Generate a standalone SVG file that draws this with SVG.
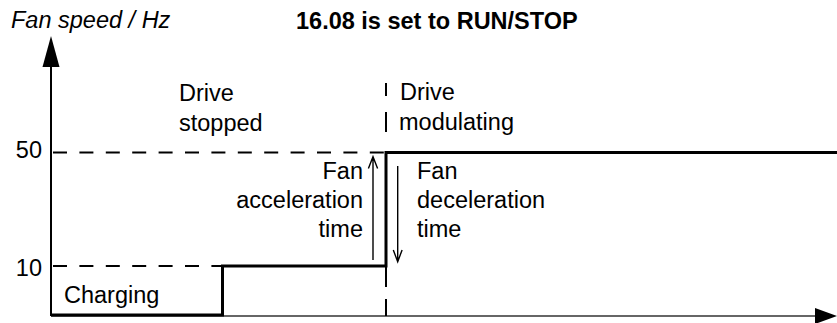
<svg xmlns="http://www.w3.org/2000/svg" width="837" height="323" viewBox="0 0 837 323">
  <style>
    text { font-family: "Liberation Sans", Arial, Helvetica, sans-serif; font-size: 23.5px; fill: #000; }
    .it { font-style: italic; }
    .b { font-weight: bold; }
    .end { text-anchor: end; }
    .axis { stroke: #000; stroke-width: 2; fill: none; }
    .trace { stroke: #000; stroke-width: 3; fill: none; stroke-linejoin: miter; }
    .dash { stroke: #000; stroke-width: 2; fill: none; stroke-dasharray: 14 12.4; }
    .seg { stroke: #000; stroke-width: 2; fill: none; }
    .thin { stroke: #000; stroke-width: 1.4; fill: none; }
  </style>
  <rect width="837" height="323" fill="#fff"/>

  <g id="axes">
    <line x1="51" y1="316" x2="51" y2="64" class="axis"/>
    <polygon points="51,36 42.5,67 59.5,67" fill="#000"/>
    <line x1="51" y1="316" x2="818" y2="316" stroke="#333" stroke-width="1.5"/>
    <polygon points="837,316 815,308 815,324" fill="#000"/>
  </g>

  <g id="connectors">
    <line x1="53" y1="152.5" x2="386" y2="152.5" class="dash"/>
    <line x1="53" y1="266" x2="222" y2="266" class="dash"/>
    <path d="M386,83 V96 M386,112 V132 M386,266 V287 M386,299 V316" class="seg"/>
    <path d="M51,315 H222.5 V266 H386 V152.5 H837" class="trace"/>
    <path d="M373,260 V157 M368.4,168.4 L373,156.7 L377.6,168.4" class="thin"/>
    <path d="M397.7,166 V261 M393.3,250 L397.7,261.7 L402.1,250" class="thin"/>
  </g>

  <g id="labels">
    <text x="11" y="28" class="it">Fan speed / Hz</text>
    <text x="296" y="29" class="b">16.08 is set to RUN/STOP</text>
    <g id="drive-stopped">
      <text x="179" y="101">Drive</text>
      <text x="179" y="131">stopped</text>
    </g>
    <g id="drive-modulating">
      <text x="400" y="100">Drive</text>
      <text x="399" y="130">modulating</text>
    </g>
    <text x="42" y="158" class="end">50</text>
    <text x="42" y="276" class="end">10</text>
    <g id="fan-accel">
      <text x="363" y="179" class="end">Fan</text>
      <text x="363" y="208" class="end">acceleration</text>
      <text x="363" y="237" class="end">time</text>
    </g>
    <g id="fan-decel">
      <text x="417" y="179">Fan</text>
      <text x="417" y="208">deceleration</text>
      <text x="417" y="237">time</text>
    </g>
    <text x="64" y="303">Charging</text>
  </g>
</svg>
